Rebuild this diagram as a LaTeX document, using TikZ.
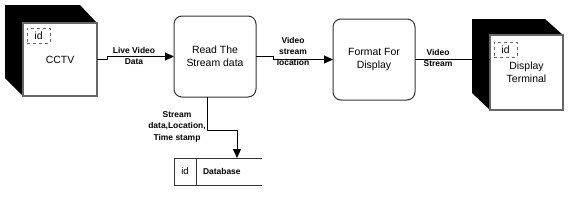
\documentclass[tikz,border=0pt]{standalone}
\usepackage{fontspec}
\setmainfont{Liberation Sans}
\usetikzlibrary{arrows.meta}
\begin{document}
\begin{tikzpicture}[x=1bp,y=-1bp,
  every node/.style={inner sep=0pt,outer sep=0pt},
  proc/.style={draw=black!80,line width=1bp,rounded corners=8bp,minimum width=82bp,minimum height=81bp,align=center,font=\fontsize{10.5}{13}\selectfont},
  face/.style={draw=black!60,line width=1.3bp,fill=white,align=center,font=\fontsize{10.5}{13}\selectfont},
  side/.style={fill=black},
  idbox/.style={draw=black!60,dashed,line width=0.8bp,minimum width=23bp,minimum height=15bp,font=\fontsize{10.5}{12}\selectfont},
  lbl/.style={align=center,font=\bfseries\fontsize{8.5}{11.5}\selectfont},
  conn/.style={draw=black,line width=1bp,-{Triangle[length=9bp,width=8bp]}}
]
\useasboundingbox (0,0) rectangle (576,201);
% CCTV external entity
\fill[side] (5,5) -- (80,5) -- (97,23) -- (23,23) -- (23,96) -- (5,78) -- cycle;
\node[face,minimum width=74bp,minimum height=73bp] (cctv) at (60,59.5) {CCTV};
\node[idbox] (cctvid) at (38.5,35.5) {id};
% Display terminal external entity
\fill[side] (472,19) -- (545,19) -- (563,35) -- (490,35) -- (490,110) -- (472,93) -- cycle;
\node[face,minimum width=73bp,minimum height=75bp] (disp) at (526.5,72.5) {Display\\Terminal};
\node[idbox] (dispid) at (505.5,49.5) {id};
% processes
\node[proc] (read) at (215,56.5) {Read The\\Stream data};
\node[proc] (fmt) at (374,59.5) {Format For\\Display};
% data store
\node[minimum width=88bp,minimum height=27bp] (db) at (218,171.5) {};
\draw[black!80,line width=1bp] (db.north east) -- (db.north west) -- (db.south west) -- (db.south east);
\draw[black!80,line width=1bp] ([xshift=22bp]db.north west) coordinate (dv) -- (dv |- db.south);
\node[font=\fontsize{9.5}{11}\selectfont] (dbid) at (185,171.5) {id};
\node[font=\bfseries\fontsize{8.5}{10}\selectfont,anchor=west] (dbname) at (203,171.5) {Database};
% connectors
\draw[conn] (cctv.east) -- ++(10,0) |- (read.west);
\draw[conn] (read.east) -- ++(17,0) |- (fmt.west);
\draw[conn] (fmt.east) -- (fmt.east -| disp.west);
\draw[conn] ([xshift=-8bp]read.south) -- ++(0,33) -| ([xshift=19bp]db.north);
% labels
\node[lbl] (l1) at (134,56) {Live Video\\Data};
\node[lbl] (l2) at (293,51.5) {Video\\stream\\location};
\node[lbl] (l3) at (438,58) {Video\\Stream};
\node[lbl] (l4) at (177,126.5) {Stream\\data,Location,\\Time stamp};
\end{tikzpicture}
\end{document}
